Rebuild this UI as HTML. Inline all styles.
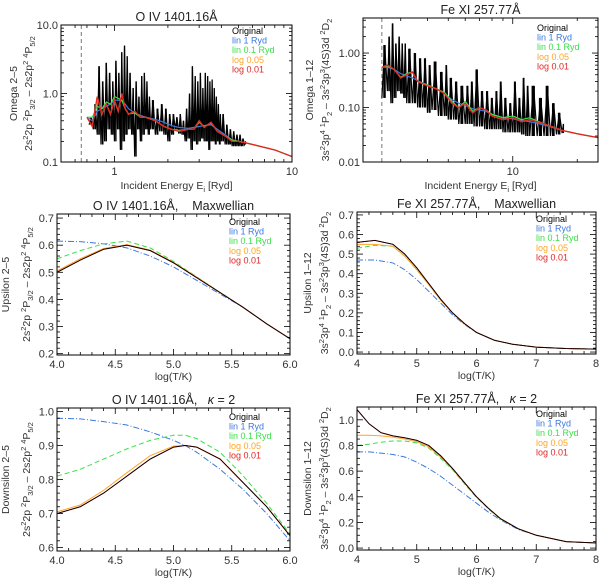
<!DOCTYPE html>
<html><head><meta charset="utf-8"><style>
body{margin:0;background:#fff}
svg{display:block;font-family:"Liberation Sans",sans-serif}
</style></head><body>
<svg id="fig" width="600" height="581" viewBox="0 0 600 581"></svg>
<script>
// ---- data: top-left O IV Omega ----
const tlE=[0.72,0.76,0.80,0.84,0.88,0.92,0.96,1.0,1.04,1.08,1.12,1.16,1.2,1.25,1.3,1.35,1.4,1.45,1.5,1.55,1.6,1.7,1.8,1.9,2.0,2.1,2.2,2.3,2.4,2.5,2.6,2.7,2.8,2.9,3.0,3.1,3.2,3.3,3.4,3.5,3.6,3.7,3.8,3.9,4.0,4.2,4.4,4.6,4.8,5.0,5.2,5.4];
const tlHi=[0.45,0.7,2.5,1.5,2.8,2.0,1.5,3.0,2.0,4.0,5.0,3.5,2.0,1.2,1.5,0.9,1.8,2.0,1.5,0.9,0.8,0.6,0.7,0.6,0.5,0.5,0.45,0.5,0.4,0.6,1.0,2.5,1.8,1.5,2.0,1.2,2.0,1.8,1.5,1.6,1.2,0.9,0.7,0.5,0.5,0.35,0.3,0.28,0.25,0.25,0.22,0.2];
const tlLo=[0.35,0.3,0.25,0.18,0.2,0.3,0.25,0.2,0.3,0.15,0.2,0.25,0.3,0.25,0.12,0.3,0.2,0.25,0.3,0.25,0.3,0.25,0.28,0.25,0.2,0.25,0.3,0.26,0.25,0.2,0.22,0.15,0.2,0.18,0.2,0.22,0.2,0.2,0.15,0.2,0.2,0.18,0.2,0.18,0.2,0.18,0.18,0.17,0.17,0.17,0.17,0.18];
const tlSE=[0.7,0.75,0.8,0.85,0.9,0.95,1.0,1.05,1.1,1.15,1.2,1.3,1.4,1.5,1.7,1.9,2.1,2.3,2.6,2.8,3.0,3.2,3.5,3.8,4.2,4.6,5.0,5.5,6,8,10];
const tlRed=[0.45,0.33,0.9,0.5,0.7,0.5,0.8,0.55,1.0,0.6,0.5,0.55,0.45,0.45,0.4,0.33,0.3,0.28,0.3,0.3,0.4,0.32,0.38,0.28,0.24,0.2,0.2,0.19,0.18,0.15,0.12];
const tlGreen=[0.45,0.45,0.65,0.6,0.75,0.7,0.9,0.85,0.8,0.6,0.5,0.52,0.45,0.45,0.4,0.33,0.3,0.29,0.3,0.3,0.38,0.33,0.37,0.28,0.24,0.21,0.2,0.19,0.18,0.15,0.12];
const tlBlue=[0.45,0.4,0.55,0.6,0.65,0.7,0.8,0.8,0.78,0.7,0.6,0.52,0.48,0.45,0.42,0.38,0.34,0.32,0.31,0.32,0.33,0.34,0.35,0.3,0.25,0.21,0.2,0.19,0.18,0.15,0.12];
// ---- data: top-right Fe XI Omega ----
const trE=[2.45,2.6,2.7,2.8,2.9,3.0,3.1,3.2,3.4,3.6,3.8,4.0,4.2,4.5,4.8,5.0,5.3,5.6,6.0,6.3,6.6,7.0,7.4,7.8,8.2,8.6,9.0,9.5,10,10.5,11,11.5,12,13,14,15,16,17];
const trHi=[1.4,2.0,3.5,1.5,2.0,1.5,1.5,1.2,1.0,0.8,0.8,0.6,0.7,0.45,0.6,0.35,0.3,0.25,0.25,0.3,0.5,0.2,0.2,0.15,0.2,0.3,0.15,0.12,0.3,0.15,0.35,0.25,0.25,0.15,0.25,0.12,0.08,0.05];
const trLo=[0.15,0.2,0.12,0.15,0.2,0.18,0.15,0.12,0.12,0.1,0.1,0.08,0.09,0.07,0.07,0.06,0.06,0.05,0.05,0.05,0.045,0.045,0.04,0.04,0.04,0.04,0.035,0.035,0.035,0.035,0.032,0.03,0.03,0.03,0.03,0.03,0.032,0.034];
const trSE=[2.45,2.6,2.8,3.0,3.2,3.4,3.6,4.0,4.4,4.8,5.2,5.6,6.0,6.5,7,7.5,8,9,10,11,12,14,17,20,25];
const trRed=[0.55,0.6,0.5,0.35,0.4,0.45,0.3,0.25,0.22,0.18,0.12,0.1,0.12,0.08,0.1,0.09,0.07,0.06,0.065,0.055,0.06,0.05,0.038,0.033,0.028];
const trGreen=[0.55,0.58,0.5,0.36,0.42,0.45,0.3,0.26,0.22,0.19,0.13,0.1,0.13,0.085,0.1,0.09,0.075,0.065,0.07,0.06,0.065,0.05,0.038,0.033,0.028];
const trBlue=[0.55,0.55,0.5,0.42,0.38,0.35,0.31,0.26,0.22,0.18,0.14,0.12,0.11,0.095,0.09,0.085,0.075,0.065,0.062,0.058,0.055,0.048,0.038,0.033,0.028];
// ---- data: middle-left O IV Upsilon ----
const mlT=[4.0,4.2,4.4,4.6,4.8,5.0,5.2,5.4,5.6,5.8,6.0];
const mlOrig=[0.50,0.545,0.585,0.60,0.58,0.535,0.48,0.425,0.37,0.31,0.255];
const mlLog05=[0.505,0.55,0.588,0.602,0.582,0.537,0.482,0.426,0.37,0.31,0.255];
const mlLin01=[0.55,0.58,0.605,0.615,0.59,0.54,0.483,0.426,0.37,0.31,0.255];
const mlLin1=[0.615,0.613,0.605,0.59,0.56,0.52,0.47,0.42,0.37,0.31,0.255];
// ---- data: middle-right Fe XI Upsilon ----
const mrT=[4.0,4.3,4.6,4.8,5.0,5.2,5.4,5.6,5.8,6.0,6.3,6.6,7.0,7.5,8.0];
const mrOrig=[0.56,0.57,0.55,0.50,0.43,0.35,0.27,0.20,0.145,0.10,0.06,0.04,0.025,0.018,0.015];
const mrLog05=[0.55,0.55,0.54,0.49,0.42,0.345,0.265,0.198,0.143,0.10,0.06,0.04,0.025,0.018,0.015];
const mrLin01=[0.53,0.545,0.54,0.49,0.42,0.345,0.265,0.198,0.143,0.10,0.06,0.04,0.025,0.018,0.015];
const mrLin1=[0.47,0.47,0.455,0.42,0.37,0.31,0.25,0.19,0.14,0.10,0.06,0.04,0.025,0.018,0.015];
// ---- data: bottom-left O IV kappa=2 ----
const blT=[4.0,4.2,4.4,4.6,4.8,5.0,5.1,5.2,5.4,5.6,5.8,6.0];
const blOrig=[0.70,0.72,0.76,0.81,0.86,0.895,0.90,0.895,0.86,0.79,0.72,0.635];
const blLog05=[0.705,0.725,0.768,0.82,0.87,0.898,0.90,0.895,0.86,0.79,0.72,0.635];
const blLin01=[0.81,0.83,0.86,0.89,0.915,0.93,0.93,0.92,0.88,0.81,0.73,0.64];
const blLin1=[0.98,0.978,0.97,0.96,0.94,0.915,0.9,0.88,0.83,0.77,0.70,0.62];
// ---- data: bottom-right Fe XI kappa=2 ----
const brT=[4.0,4.2,4.4,4.6,4.8,5.0,5.2,5.4,5.6,5.8,6.0,6.2,6.4,6.7,7.0,7.5,8.0];
const brOrig=[1.08,0.97,0.90,0.875,0.86,0.84,0.80,0.72,0.62,0.51,0.40,0.31,0.23,0.15,0.10,0.05,0.04];
const brLog05=[0.88,0.88,0.875,0.865,0.85,0.83,0.79,0.71,0.615,0.505,0.40,0.31,0.23,0.15,0.10,0.05,0.04];
const brLin01=[0.80,0.81,0.825,0.835,0.835,0.82,0.78,0.70,0.61,0.50,0.395,0.305,0.225,0.15,0.10,0.05,0.04];
const brLin1=[0.75,0.75,0.74,0.73,0.71,0.67,0.62,0.56,0.49,0.42,0.35,0.28,0.22,0.145,0.10,0.05,0.04];

const C={black:'#000',blue:'#3a78e0',green:'#3ae04a',orange:'#ffa626',red:'#e02626'};
const NS='http://www.w3.org/2000/svg';
const svg=document.getElementById('fig');
function mk(tag,attrs,parent,txt){const e=document.createElementNS(NS,tag);for(const k in attrs)e.setAttribute(k,attrs[k]);if(txt!==undefined)e.textContent=txt;(parent||svg).appendChild(e);return e;}

function panel(p){
  const g=mk('g',{},svg);
  
  
  const sx=v=>p.xlog? p.x0+(Math.log10(v)-Math.log10(p.xr[0]))/(Math.log10(p.xr[1])-Math.log10(p.xr[0]))*(p.x1-p.x0)
                    : p.x0+(v-p.xr[0])/(p.xr[1]-p.xr[0])*(p.x1-p.x0);
  const sy=v=>p.ylog? p.y1-(Math.log10(v)-Math.log10(p.yr[0]))/(Math.log10(p.yr[1])-Math.log10(p.yr[0]))*(p.y1-p.y0)
                    : p.y1-(v-p.yr[0])/(p.yr[1]-p.yr[0])*(p.y1-p.y0);
  const clip='c'+p.name;
  const cp=mk('clipPath',{id:clip},g);mk('rect',{x:p.x0,y:p.y0,width:p.x1-p.x0,height:p.y1-p.y0},cp);
  const pg=mk('g',{'clip-path':'url(#'+clip+')'},g);
  if(p.dash){const l=mk('line',{x1:sx(p.dash),x2:sx(p.dash),y1:p.y0,y2:p.y1,stroke:'#555','stroke-width':0.8,'stroke-dasharray':'4,3'},pg);
    }
  if(p.noise){
    const ng=mk('g',{},pg);
    const e=p.noise.e;
    e.forEach((v,i)=>{const xa=sx(v), xb=sx(e[i+1]||v*1.03);
      const w=Math.max(0.8,(xb-xa)*0.45);
      const b=mk('rect',{x:xa+(xb-xa)*0.25,y:sy(p.noise.hi[i]),width:w,height:sy(p.noise.lo[i])-sy(p.noise.hi[i]),fill:'#000'},ng);
      });
    let pts=[];e.forEach((v,i)=>{const v2=e[i+1]||v*1.03;pts.push(sx(v)+','+sy(p.noise.lo[i]));pts.push(sx((v+v2)/2)+','+sy(p.noise.hi[i]));});
    mk('polyline',{points:pts.join(' '),fill:'none',stroke:'#000','stroke-width':1.2},ng);
  }
  p.series.forEach(s=>{
    const pts=s.x.map((x,i)=>sx(x)+','+sy(s.y[i])).join(' ');
    const a={points:pts,fill:'none',stroke:s.c,'stroke-width':s.w||1};
    if(s.d)a['stroke-dasharray']=s.d;
    const l=mk('polyline',a,pg);
    
    
  });
  const fr=mk('rect',{x:p.x0,y:p.y0,width:p.x1-p.x0,height:p.y1-p.y0,fill:'none',stroke:'#000','stroke-width':1},g);
  
  p.xt.forEach(t=>{const x=sx(t[0]);const L=t[2]?3:6;
    mk('line',{x1:x,x2:x,y1:p.y1,y2:p.y1-L,stroke:'#000','stroke-width':0.8},g);
    mk('line',{x1:x,x2:x,y1:p.y0,y2:p.y0+L,stroke:'#000','stroke-width':0.8},g);
    if(t[1]){const tx=mk('text',{x:x,y:p.y1+13,'font-size':11,'text-anchor':'middle',fill:'#333'},g,t[1]);}});
  p.yt.forEach(t=>{const y=sy(t[0]);const L=t[2]?3:6;
    mk('line',{x1:p.x0,x2:p.x0+L,y1:y,y2:y,stroke:'#000','stroke-width':0.8},g);
    mk('line',{x1:p.x1,x2:p.x1-L,y1:y,y2:y,stroke:'#000','stroke-width':0.8},g);
    if(t[1]){const tx=mk('text',{x:p.x0-3,y:y+4,'font-size':11,'text-anchor':'end',fill:'#333'},g,t[1]);}});
  const tt=mk('text',{x:(p.x0+p.x1)/2,y:p.y0-4,'font-size':12.5,'text-anchor':'middle',fill:'#222'},g);
  tt.innerHTML=p.title;
  const xl=mk('text',{x:(p.x0+p.x1)/2,y:p.y1+(p.xlog?27:25),'font-size':10.5,'text-anchor':'middle',fill:'#333'},g);
  xl.innerHTML=p.xlabel;
  const cy=(p.y0+p.y1)/2;
  const y1=mk('text',{x:0,y:0,'font-size':10.5,'text-anchor':'middle',fill:'#333',transform:`translate(${p.ylx1},${cy}) rotate(-90)`},g,p.yl1);
  
  const y2=mk('text',{x:0,y:0,'font-size':10.5,'text-anchor':'middle',fill:'#333',transform:`translate(${p.ylx2},${cy}) rotate(-90)`},g);
  y2.innerHTML=p.yl2;
  const lg=mk('g',{},g);
  [['Original',C.black],['lin  1  Ryd',C.blue],['lin  0.1  Ryd',C.green],['log  0.05',C.orange],['log  0.01',C.red]].forEach((L,i)=>{
    const t=mk('text',{x:p.lx,y:p.ly+i*9.6,'font-size':9,fill:L[1],'xml:space':'preserve'},lg,L[0]);
    });
}
const sup=s=>`</tspan><tspan dy="-4" font-size="7.5">${s}</tspan><tspan dy="4">`;
const sub=s=>`</tspan><tspan dy="3" font-size="7.5">${s}</tspan><tspan dy="-3">`;
const oivT=`<tspan>2s${sup(2)}2p  ${sup(2)}P${sub('3/2')}  –  2s2p${sup(2)}  ${sup(4)}P${sub('5/2')}</tspan>`;
const fexT=`<tspan>3s${sup(2)}3p${sup(4)} ${sup(1)}P${sub(2)}  –  3s${sup(2)}3p${sup(3)}(4S)3d ${sup(2)}D${sub(2)}</tspan>`;
const mkSeries=(x,o,l05,l01,l1)=>[
 {x,y:l1,c:C.blue,d:'6,2,1,2',n:'lin-1-ryd-curve'},
 {x,y:l01,c:C.green,d:'5,3',n:'lin-0.1-ryd-curve'},
 {x,y:l05,c:C.orange,n:'log-0.05-curve'},
 {x,y:o,c:C.red,n:'log-0.01-curve'},
 {x,y:o,c:C.black,n:'original-curve',w:0.9}];
function ticks(a,b,step,minor,fmt){const r=[];for(let v=a;v<=b+1e-9;v+=minor){const m=Math.abs(Math.round((v-a)/step)*step-(v-a))<1e-6;r.push([+v.toFixed(4),m?fmt(v):'',!m]);}return r;}
function logTicks(a,b,labels){const r=[];for(let d=Math.floor(Math.log10(a));d<=Math.ceil(Math.log10(b));d++)for(let k=1;k<10;k++){const v=k*Math.pow(10,d);if(v<a*0.999||v>b*1.001)continue;r.push([v,k===1&&labels?labels(v):'',k!==1]);}return r;}

panel({name:'oiv-omega-panel',x0:61,x1:292,y0:25,y1:162,xlog:true,ylog:true,xr:[0.5,10],yr:[0.1,10],dash:0.65,
 noise:{e:tlE,hi:tlHi,lo:tlLo},
 series:[{x:tlSE,y:tlBlue,c:C.blue,n:'lin-1-ryd-curve',w:1.2},{x:tlSE,y:tlGreen,c:C.green,n:'lin-0.1-ryd-curve',w:1.2},{x:tlSE,y:tlRed,c:C.orange,n:'log-0.05-curve',w:1.3},{x:tlSE,y:tlRed,c:C.red,n:'log-0.01-curve',w:1.3}],
 xt:logTicks(0.5,10,v=>v>=1?String(v):''),yt:logTicks(0.1,10,v=>v.toFixed(1)),
 title:'O IV 1401.16Å',xlabel:'Incident Energy E<tspan dy="3" font-size="7.5">i</tspan><tspan dy="-3"> [Ryd]</tspan>',
 yl1:'Omega 2–5',yl2:oivT,ylx1:17,ylx2:32,lx:232,ly:34});
panel({name:'fexi-omega-panel',x0:363,x1:598,y0:18,y1:162,xlog:true,ylog:true,xr:[2,25],yr:[0.01,4.4],dash:2.45,
 noise:{e:trE,hi:trHi,lo:trLo},
 series:[{x:trSE,y:trBlue,c:C.blue,n:'lin-1-ryd-curve',w:1.2},{x:trSE,y:trGreen,c:C.green,n:'lin-0.1-ryd-curve',w:1.2},{x:trSE,y:trRed,c:C.orange,n:'log-0.05-curve',w:1.3},{x:trSE,y:trRed,c:C.red,n:'log-0.01-curve',w:1.3}],
 xt:logTicks(2,25,v=>v===10?'10':''),yt:logTicks(0.01,4.4,v=>v.toFixed(2)),
 title:'Fe XI 257.77Å',xlabel:'Incident Energy E<tspan dy="3" font-size="7.5">i</tspan><tspan dy="-3"> [Ryd]</tspan>',
 yl1:'Omega 1–12',yl2:fexT,ylx1:313,ylx2:329,lx:537,ly:31});
panel({name:'oiv-upsilon-panel',x0:57,x1:290,y0:214,y1:355,xr:[4,6],yr:[0.195,0.715],
 series:mkSeries(mlT,mlOrig,mlLog05,mlLin01,mlLin1),
 xt:ticks(4,6,0.5,0.1,v=>v.toFixed(1)),yt:ticks(0.2,0.7,0.1,0.02,v=>v.toFixed(1)),
 title:'O IV 1401.16Å,&#160;&#160;&#160;&#160;Maxwellian',xlabel:'log(T/K)',
 yl1:'Upsilon 2–5',yl2:oivT,ylx1:9,ylx2:30,lx:229,ly:225});
panel({name:'fexi-upsilon-panel',x0:357,x1:596,y0:212,y1:354,xr:[4,8],yr:[-0.01,0.715],
 series:mkSeries(mrT,mrOrig,mrLog05,mrLin01,mrLin1),
 xt:ticks(4,8,1,0.2,v=>v.toFixed(0)),yt:ticks(0,0.7,0.1,0.02,v=>v.toFixed(1)),
 title:'Fe XI 257.77Å,&#160;&#160;&#160;&#160;Maxwellian',xlabel:'log(T/K)',
 yl1:'Upsilon 1–12',yl2:fexT,ylx1:311,ylx2:328,lx:536,ly:222});
panel({name:'oiv-kappa-panel',x0:57,x1:290,y0:408,y1:551,xr:[4,6],yr:[0.59,1.01],
 series:mkSeries(blT,blOrig,blLog05,blLin01,blLin1),
 xt:ticks(4,6,0.5,0.1,v=>v.toFixed(1)),yt:ticks(0.6,1.0,0.1,0.02,v=>v.toFixed(1)),
 title:'O IV 1401.16Å,&#160;&#160;&#160;<tspan font-style="italic">κ</tspan> = 2',xlabel:'log(T/K)',
 yl1:'Downsilon 2–5',yl2:oivT,ylx1:9,ylx2:30,lx:229,ly:420});
panel({name:'fexi-kappa-panel',x0:357,x1:596,y0:407,y1:550,xr:[4,8],yr:[-0.015,1.1],
 series:mkSeries(brT,brOrig,brLog05,brLin01,brLin1),
 xt:ticks(4,8,1,0.2,v=>v.toFixed(0)),yt:ticks(0,1.0,0.2,0.05,v=>v.toFixed(1)),
 title:'Fe XI 257.77Å,&#160;&#160;&#160;<tspan font-style="italic">κ</tspan> = 2',xlabel:'log(T/K)',
 yl1:'Downsilon 1–12',yl2:fexT,ylx1:311,ylx2:328,lx:536,ly:417});
</script>
</body></html>
